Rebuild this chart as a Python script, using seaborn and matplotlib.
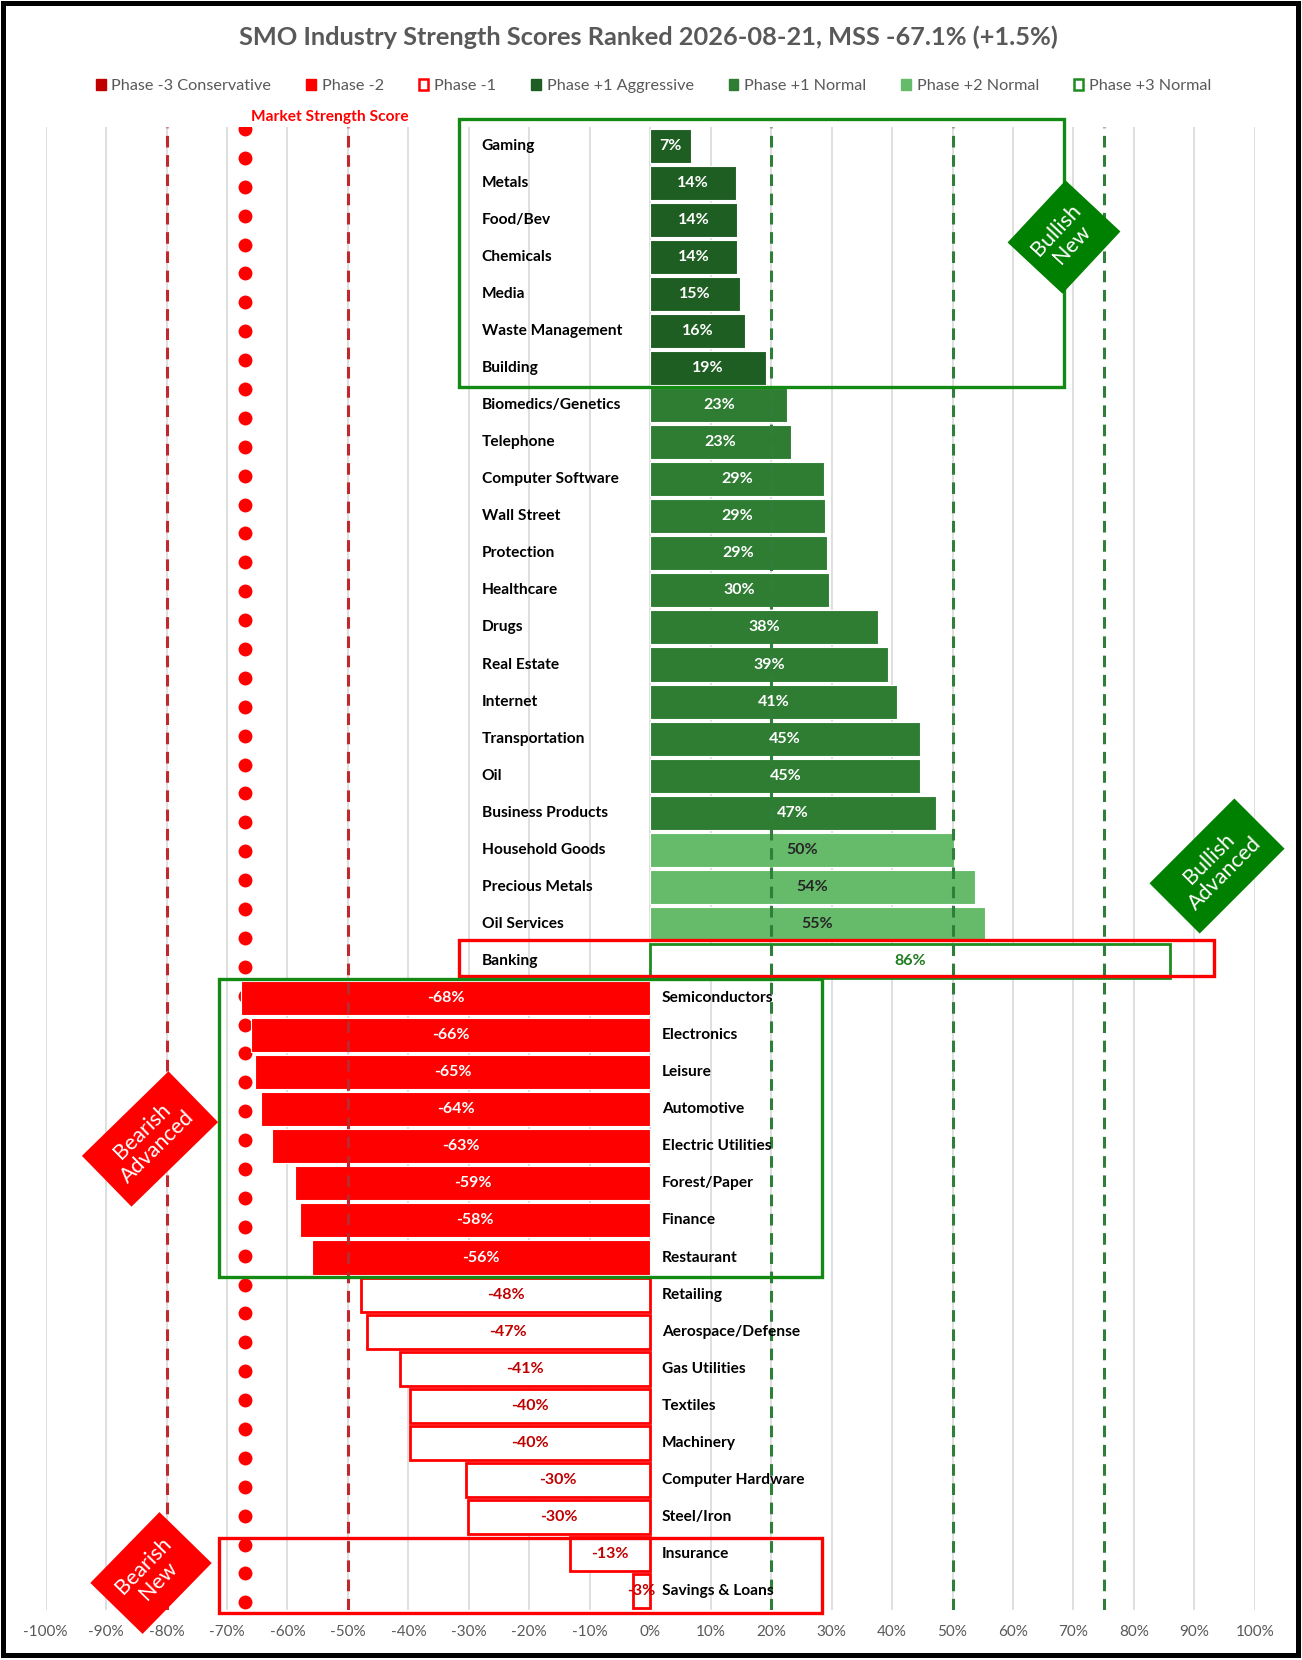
import numpy as np
import pandas as pd
import matplotlib
matplotlib.use("Agg")
import matplotlib.pyplot as plt
from matplotlib.patches import Rectangle, Patch
import seaborn as sns

# ---- data ----
industries = [
    "Gaming", "Metals", "Food/Bev", "Chemicals", "Media", "Waste Management",
    "Building", "Biomedics/Genetics", "Telephone", "Computer Software",
    "Wall Street", "Protection", "Healthcare", "Drugs", "Real Estate",
    "Internet", "Transportation", "Oil", "Business Products",
    "Household Goods", "Precious Metals", "Oil Services", "Banking",
    "Semiconductors", "Electronics", "Leisure", "Automotive",
    "Electric Utilities", "Forest/Paper", "Finance", "Restaurant",
    "Retailing", "Aerospace/Defense", "Gas Utilities", "Textiles",
    "Machinery", "Computer Hardware", "Steel/Iron", "Insurance",
    "Savings & Loans",
]
scores = [
    6.8, 14.2, 14.4, 14.4, 14.9, 15.6, 19.2, 22.7, 23.3, 28.7,
    28.9, 29.2, 29.6, 37.6, 39.3, 40.8, 44.6, 44.7, 47.2,
    50.3, 53.7, 55.3, 86.0,
    -67.7, -66.1, -65.4, -64.4, -62.6, -58.8, -57.9, -56.0,
    -47.8, -46.9, -41.3, -39.8, -39.7, -30.4, -30.2, -13.2, -2.9,
]
phases = (["Phase +1 Aggressive"] * 7 + ["Phase +1 Normal"] * 12
          + ["Phase +2 Normal"] * 3 + ["Phase +3 Normal"]
          + ["Phase -2"] * 8 + ["Phase -1"] * 9)

legend_order = ["Phase -3 Conservative", "Phase -2", "Phase -1",
                "Phase +1 Aggressive", "Phase +1 Normal", "Phase +2 Normal",
                "Phase +3 Normal"]

mss_value = -67.1
mss_change = 1.5
report_date = "2026-08-21"
mss_points = [mss_value] * 52

red_lines = [-80, -50]
green_lines = [20, 50, 75]

# phase styles: fill, edge, edge width, label colour
phase_style = {
    "Phase -3 Conservative": ("#C00000", "white", 0.8, "white"),
    "Phase -2": ("#FF0000", "white", 0.8, "white"),
    "Phase -1": ("white", "#FF0000", 2.0, "#C00000"),
    "Phase +1 Aggressive": ("#1F5E22", "white", 0.8, "white"),
    "Phase +1 Normal": ("#2E7D32", "white", 0.8, "white"),
    "Phase +2 Normal": ("#66BB6A", "white", 0.8, "#262626"),
    "Phase +3 Normal": ("white", "#1E8C1E", 2.0, "#1E7B1E"),
}

sns.set_style("white")
plt.rcParams['font.family'] = ['Lato', 'DejaVu Sans']

df = pd.DataFrame({"Industry": industries, "Score": scores, "Phase": phases})

fig = plt.figure(figsize=(13.02, 16.6), dpi=100)
ax = fig.add_axes([0.03502, 0.03036, 0.92873, 0.89307])
ax2 = ax.twinx()

# market strength score dots
ax2.scatter(mss_points, range(len(mss_points)), s=100, color="#FF0000",
            linewidths=0, zorder=3)
ax2.set_ylim(51.25, -0.066)
ax2.axis("off")
ax2.annotate("Market Strength Score", (mss_points[0], 0), xytext=(4.5, 9),
             textcoords="offset points", ha="left", va="center",
             color="#FF0000", fontsize=11.2, fontweight="bold")

ax.set_zorder(ax2.get_zorder() + 1)
ax.patch.set_visible(False)

sns.barplot(data=df, x="Score", y="Industry", color="white", width=0.92,
            orient="h", errorbar=None, ax=ax, zorder=2)

for patch, ph in zip(ax.patches, phases):
    fc, ec, lw, _ = phase_style[ph]
    patch.set_facecolor(fc)
    patch.set_edgecolor(ec)
    patch.set_linewidth(lw)

for i, (name, val, ph) in enumerate(zip(industries, scores, phases)):
    lx = -27.9 if val > 0 else 1.95
    ax.text(lx, i, name, ha="left", va="center", fontsize=11.2,
            fontweight="bold", color="black", zorder=5)
    ax.text(val / 2, i, f"{val:.0f}%", ha="center", va="center",
            fontsize=11.5, fontweight="bold", color=phase_style[ph][3],
            zorder=5)

for x in red_lines:
    ax.axvline(x, color="#C0282D", lw=2.2, ls=(0, (3.8, 2.5)), zorder=3)
for x in green_lines:
    ax.axvline(x, color="#2F7F3A", lw=2.2, ls=(0, (3.8, 2.5)), zorder=3)

# group boxes
boxes = [
    (-31.6, 68.4, -0.72, 6.52, "#138A13"),
    (-31.6, 93.3, 21.44, 22.41, "#FF0000"),
    (-71.3, 28.4, 22.49, 30.53, "#138A13"),
    (-71.3, 28.4, 37.56, 39.59, "#FF0000"),
]
for x0, x1, y0, y1, c in boxes:
    ax.add_patch(Rectangle((x0, y0), x1 - x0, y1 - y0, fill=False,
                           edgecolor=c, lw=2.4, clip_on=False, zorder=4))

ax.set_xlim(-100, 100)
ax.set_ylim(39.5, -0.5)
ticks = list(range(-100, 101, 10))
ax.set_xticks(ticks)
ax.set_xticklabels([f"{t}%" for t in ticks])
ax.tick_params(axis="x", length=0, pad=11, labelsize=11, labelcolor="#595959")
ax.set_yticks([])
ax.set_xlabel("")
ax.set_ylabel("")
ax.grid(axis="x", color="#D9D9D9", lw=1.2)
ax.grid(axis="y", visible=False)
ax.set_axisbelow(True)
sns.despine(ax=ax, left=True, bottom=True)

# rotated signal tags (figure pixel positions)
def add_tag(cx, cy, w, h, angle, color, text):
    xi, yi = cx / 100, (1660 - cy) / 100
    rect = Rectangle((xi - w / 200, yi - h / 200), w / 100, h / 100,
                     angle=angle, rotation_point="center",
                     transform=fig.dpi_scale_trans, facecolor=color,
                     edgecolor="none", zorder=10)
    fig.add_artist(rect)
    fig.text(xi, yi, text, transform=fig.dpi_scale_trans, rotation=angle,
             rotation_mode="anchor", ha="center", va="center",
             multialignment="center", color="white", fontsize=15.5,
             linespacing=1.1, zorder=11)

add_tag(1064, 237, 85, 75, 47, "#008000", "Bullish\nNew")
add_tag(1217, 866, 120, 71, 45, "#008000", "Bullish\nAdvanced")
add_tag(150, 1139, 121, 71, 44.3, "#FF0000", "Bearish\nAdvanced")
add_tag(151, 1573, 99, 73, 45.7, "#FF0000", "Bearish\nNew")

title = (f"SMO Industry Strength Scores Ranked {report_date}, "
         f"MSS {mss_value:.1f}% (+{mss_change:.1f}%)")
fig.text(0.498, 0.9777, title, ha="center", va="center", fontsize=18.3,
         fontweight="bold", color="#595959")

handles = []
for ph in legend_order:
    fc, ec, lw, _ = phase_style[ph]
    if fc == "white":
        handles.append(Patch(facecolor="white", edgecolor=ec, lw=1.8))
    else:
        handles.append(Patch(facecolor=fc, edgecolor=fc))
fig.legend(handles, legend_order, loc="center", bbox_to_anchor=(0.502, 0.9483),
           ncol=7, frameon=False, handlelength=0.6, handleheight=0.7,
           handletextpad=0.35, columnspacing=2.15, fontsize=11.7,
           labelcolor="#595959")

# outer frame
fig.add_artist(Rectangle((0.025, 0.055), 12.955, 16.52, fill=False,
                         edgecolor="black", lw=3.6,
                         transform=fig.dpi_scale_trans))

fig.savefig("out.png", dpi=100)
